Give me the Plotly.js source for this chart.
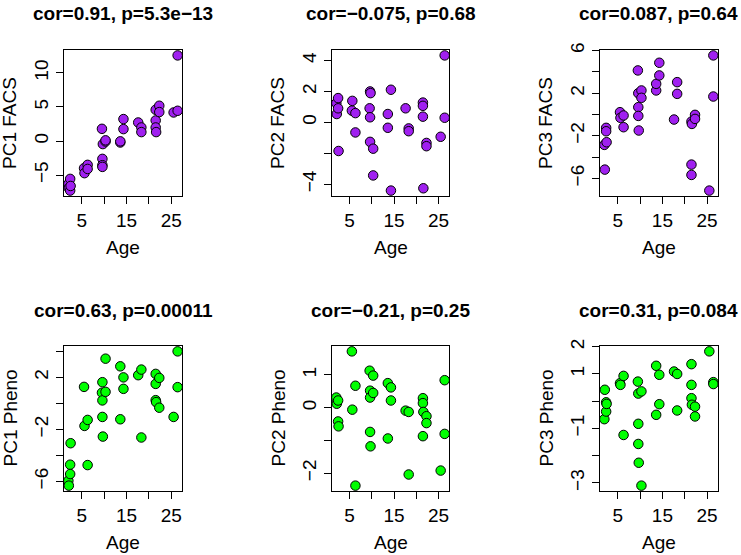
<!DOCTYPE html>
<html>
<head>
<meta charset="utf-8">
<script src="https://cdn.plot.ly/plotly-3.0.1.min.js"></script>
<style>html,body{margin:0;padding:0;background:#fff;}#chart{width:741px;height:555px;}</style>
</head>
<body>
<div id="chart"></div>
<script>
// Shared sample ages (x values)
const ages = [2.0, 2.1, 2.4, 2.4, 2.5, 5.5, 5.6, 6.3, 6.3, 9.5, 9.6, 9.6, 9.6, 9.7, 10.3, 10.3,
  13.6, 13.6, 14.3, 14.3, 17.6, 18.3, 18.3, 21.5, 21.5, 21.5, 21.6, 22.3, 22.3, 25.5, 26.4, 26.4];

const pc1Facs = [-6.3, -6.9, -5.56, -7.28, -6.6, -3.99, -4.72, -3.5, -4.1, 1.79, -2.62, -3.55, -3.8, -0.45, -0.07, 0.1,
  -0.22, -0.05, 3.22, 1.75, 2.72, 1.99, 1.31, 4.59, 3.02, 1.99, 1.31, 5.18, 4.25, 4.19, 12.57, 4.44];
const pc2Facs = [1.24, 0.54, 1.57, 0.91, -1.85, 0.76, 1.39, 0.6, -0.65, 0.91, 2.0, 0.33, -1.26, 1.89, -1.7, -3.43,
  0.54, -0.35, 2.11, -4.41, 0.91, -0.39, -0.57, 1.28, 1.07, 0.37, -4.26, -1.33, -1.54, -0.93, 4.33, 0.30];
const pc3Facs = [-2.85, -5.17, -1.25, -1.57, -2.6, 0.22, -0.31, -0.09, -1.19, 4.14, 2.0, 0.69, -0.13, -1.5, 2.26, 1.57,
  2.26, 2.88, 4.86, 3.67, -0.47, 3.04, 1.94, -0.66, -4.7, -5.67, -0.88, -0.03, -0.41, -7.14, 5.55, 1.69];
const pc1Pheno = [-5.94, -6.32, -4.71, -5.43, -3.06, 1.27, -1.73, -1.27, -4.74, 0.82, 1.63, 0.23, -1.04, -2.55, 3.44, 0.89,
  2.85, -1.22, 2.0, 1.12, 2.17, 2.6, -2.62, 2.27, 1.5, 0.25, 0.1, 1.96, -0.33, -1.04, 4.0, 1.25];
const pc2Pheno = [0.31, 0.12, -0.42, 0.22, -0.57, 1.72, -0.06, 0.67, -2.38, 1.13, 0.52, 0.31, -0.74, -1.18, 0.98, 0.45,
  0.75, -0.94, 0.62, 0.22, -0.09, -0.13, -2.04, 0.29, 0.14, -0.87, -0.13, -0.26, -0.47, -1.92, 0.84, -0.8];
const pc3Pheno = [-0.66, 0.42, -0.04, -0.38, -0.1, 0.66, 0.60, 0.93, -1.24, 0.72, 0.28, -0.83, -1.57, -2.26, 0.36, -3.1,
  1.3, -0.5, 0.97, -0.11, 1.09, 1.0, -0.34, 1.36, 0.6, 0.11, -0.13, -0.2, -0.56, 1.83, 0.7, 0.63];

const panelTitles = ["cor=0.91, p=5.3e\u221213", "cor=\u22120.075, p=0.68", "cor=0.087, p=0.64",
  "cor=0.63, p=0.00011", "cor=\u22120.21, p=0.25", "cor=0.31, p=0.084"];
const yLabels = ["PC1 FACS", "PC2 FACS", "PC3 FACS", "PC1 Pheno", "PC2 Pheno", "PC3 Pheno"];
const xLabel = "Age";

const xTickVals = [5, 10, 15, 20, 25];
const xTickText = ["5", "", "15", "", "25"];
const yTickVals = [
  [-5, 0, 5, 10],
  [-4, -2, 0, 2, 4],
  [-6, -4, -2, 0, 2, 4, 6],
  [-6, -4, -2, 0, 2, 4],
  [-2, -1, 0, 1],
  [-3, -2, -1, 0, 1, 2]
];
const yTickText = [
  ["\u22125", "0", "5", "10"],
  ["\u22124", "", "0", "2", "4"],
  ["\u22126", "", "\u22122", "", "2", "", "6"],
  ["\u22126", "", "\u22122", "", "2", ""],
  ["\u22122", "", "0", "1"],
  ["\u22123", "", "\u22121", "", "1", "2"]
];

const series = [pc1Facs, pc2Facs, pc3Facs, pc1Pheno, pc2Pheno, pc3Pheno];
const fills = ["#A020F0", "#A020F0", "#A020F0", "#00FF00", "#00FF00", "#00FF00"];

// R-style axis range: data range extended by 4% on each side
function rRange(v) {
  const lo = Math.min(...v), hi = Math.max(...v), d = (hi - lo) * 0.04;
  return [lo - d, hi + d];
}

const W = 741, H = 555;
const colBox = [[64, 182], [332, 449], [600, 717.7]];
const rowBox = [[50, 196], [346, 491]];
const FONT = "Liberation Sans, Arial, Helvetica, sans-serif";
const FS = 19;

const data = [];
const layout = {
  width: W, height: H,
  margin: {l: 0, r: 0, t: 0, b: 0},
  paper_bgcolor: "#fff", plot_bgcolor: "#fff",
  showlegend: false,
  font: {family: FONT, size: FS, color: "#000"},
  annotations: []
};

for (let i = 0; i < 6; i++) {
  const r = Math.floor(i / 3), c = i % 3;
  const xa = i === 0 ? "x" : "x" + (i + 1);
  const ya = i === 0 ? "y" : "y" + (i + 1);
  const xk = i === 0 ? "xaxis" : "xaxis" + (i + 1);
  const yk = i === 0 ? "yaxis" : "yaxis" + (i + 1);
  const [bl, br] = colBox[c];
  const [bt, bb] = rowBox[r];
  data.push({
    type: "scatter", mode: "markers", x: ages, y: series[i], xaxis: xa, yaxis: ya,
    marker: {size: 9.5, color: fills[i], line: {color: "#000", width: 1}},
    cliponaxis: false, hoverinfo: "skip"
  });
  const common = {
    showgrid: false, zeroline: false, showline: true, mirror: true,
    linecolor: "#000", linewidth: 1, ticks: "outside", ticklen: 7, tickwidth: 1, tickcolor: "#000",
    tickfont: {family: FONT, size: FS, color: "#000"}, tickmode: "array", fixedrange: true
  };
  layout[xk] = Object.assign({}, common, {
    domain: [bl / W, br / W], anchor: ya, range: rRange(ages),
    tickvals: xTickVals, ticktext: xTickText
  });
  layout[yk] = Object.assign({}, common, {
    domain: [1 - bb / H, 1 - bt / H], anchor: xa, range: rRange(series[i]),
    tickvals: yTickVals[i], ticktext: yTickText[i], tickangle: -90
  });
  const cx = (bl + br) / 2 / W;
  layout.annotations.push({
    text: "<b>" + panelTitles[i] + "</b>", xref: "paper", yref: "paper",
    x: cx, y: 1 - (bt - 36) / H, xanchor: "center", yanchor: "middle", showarrow: false,
    font: {family: FONT, size: 19, color: "#000"}
  });
  layout.annotations.push({
    text: xLabel, xref: "paper", yref: "paper",
    x: cx, y: 1 - (bb + 51) / H, xanchor: "center", yanchor: "middle", showarrow: false,
    font: {family: FONT, size: FS, color: "#000"}
  });
  layout.annotations.push({
    text: yLabels[i], xref: "paper", yref: "paper", textangle: -90,
    x: (bl - 54) / W, y: 1 - (bt + bb) / 2 / H, xanchor: "center", yanchor: "middle", showarrow: false,
    font: {family: FONT, size: FS, color: "#000"}
  });
}

Plotly.newPlot("chart", data, layout, {displayModeBar: false, staticPlot: true});
</script>
</body>
</html>
